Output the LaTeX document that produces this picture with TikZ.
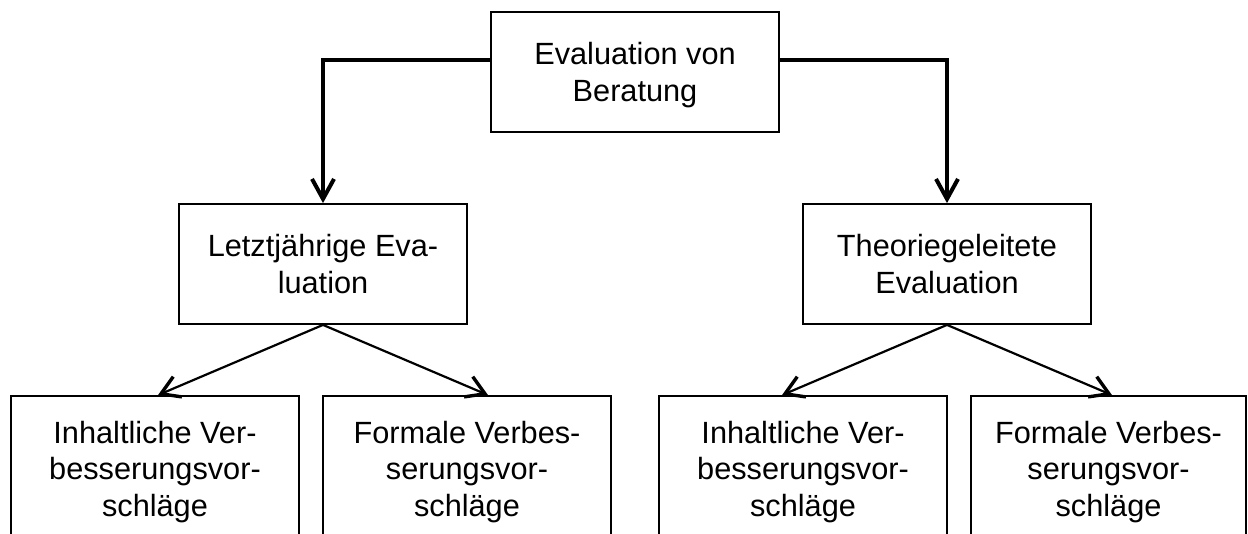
\documentclass[tikz,border=0pt]{standalone}
\usepackage{fontspec}
\setmainfont{Liberation Sans}
\usetikzlibrary{arrows.meta}
\begin{document}
\begin{tikzpicture}[x=1pt,y=-1pt,
  box/.style={draw,line width=1.8pt,inner sep=0pt,minimum width=288pt,minimum height=120pt,
    align=center,text depth=0pt,font=\fontsize{30.7pt}{36.5pt}\selectfont},
  leaf/.style={box,minimum height=145pt},
  mainarrow/.style={line width=3.8pt,-{Straight Barb[length=20pt,width=22pt,line width=4pt]}},
  subarrow/.style={line width=2.2pt,-{Straight Barb[length=18pt,width=22pt,line width=3.4pt]}}]
\useasboundingbox (0,0) rectangle (1248,534);
\clip (0,0) rectangle (1248,534);

\node[box] (top) at (635,72) {Evaluation von\\Beratung};
\node[box] (m1) at (323,264) {Letztjährige Eva-\\luation};
\node[box] (m2) at (947,264) {Theoriegeleitete\\Evaluation};

\node[leaf] (b1) at (155,468.5) {Inhaltliche Ver-\\besserungsvor-\\schläge};
\node[leaf] (b2) at (467,468.5) {Formale Verbes-\\serungsvor-\\schläge};
\node[leaf] (b3) at (803,468.5) {Inhaltliche Ver-\\besserungsvor-\\schläge};
\node[leaf,minimum width=275pt] (b4) at (1108.5,468.5) {Formale Verbes-\\serungsvor-\\schläge};

\draw[mainarrow] ([yshift=12pt]top.west) -| (m1.north);
\draw[mainarrow] ([yshift=12pt]top.east) -| (m2.north);

\draw[subarrow] (m1.south) -- ([xshift=3pt]b1.north);
\draw[subarrow] (m1.south) -- ([xshift=21pt]b2.north);
\draw[subarrow] (m2.south) -- ([xshift=-21pt]b3.north);
\draw[subarrow] (m2.south) -- ([xshift=3.5pt]b4.north);
\end{tikzpicture}
\end{document}
